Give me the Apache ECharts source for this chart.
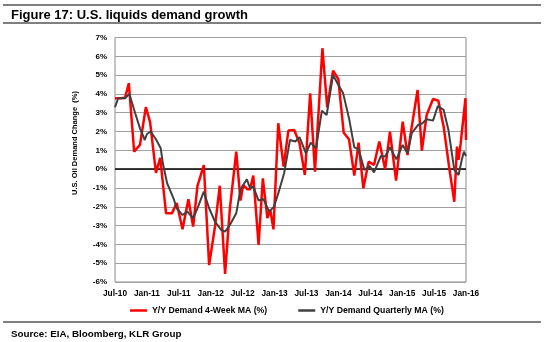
<!DOCTYPE html>
<html>
<head>
<meta charset="utf-8">
<script src="https://cdn.jsdelivr.net/npm/echarts@6/dist/echarts.min.js"></script>
<style>html,body{margin:0;padding:0;background:#fff;}#c{width:547px;height:342px;}</style>
</head>
<body>
<div id="c"></div>
<script>
// x-axis tick labels (every 6 months, starting Jul-10 = month 0)
var xTickLabels = ['Jul-10','Jan-11','Jul-11','Jan-12','Jul-12','Jan-13','Jul-13','Jan-14','Jul-14','Jan-15','Jul-15','Jan-16'];
// Y/Y Demand 4-Week MA (%) : months since Jul-10, values
var redMonth = [0,1,1.9,2.6,3.6,4.7,5.8,6.6,7.7,8.5,9.6,10.7,11.6,12.7,13.8,14.7,15.5,16.7,17.7,18.8,19.7,20.7,21.6,22.8,23.6,24.1,24.9,25.4,26,27,27.8,28.65,29.2,29.8,30.7,31.7,32.6,33.7,34.7,35.7,36.7,37.6,39.0,39.9,41.0,42.0,43.0,44.0,45.0,45.8,46.7,47.7,48.7,49.7,50.8,51.7,52.85,54.1,55.0,55.8,56.9,57.7,58.6,59.8,60.8,61.8,62.8,63.8,64.3,64.6,65.0,65.9,66];
var redValue = [3.77,3.77,3.8,4.57,0.93,1.3,3.3,2.5,-0.2,0.6,-2.35,-2.35,-1.8,-3.2,-1.6,-3.05,-0.9,0.22,-5.1,-3.05,-0.88,-5.57,-2.1,0.93,-1.67,-0.84,-1.07,-1.07,-0.34,-4.03,-0.49,-2.6,-2.17,-3.2,2.44,0.13,2.05,2.08,1.37,-0.31,4.03,-0.13,6.43,3.29,5.24,4.78,1.94,1.59,-0.34,1.41,-1.02,0.4,0.22,1.47,0,2.0,-0.61,2.53,0.75,2.26,4.21,0.98,2.88,3.73,3.64,2.26,0.17,-1.73,1.2,0.49,1.37,3.77,1.55];
// Y/Y Demand Quarterly MA (%)
var grayMonth = [0,0.6,1.9,2.7,3.8,4.7,5.6,6.0,6.7,7.7,8.6,9.0,9.8,11.0,11.6,12.7,13.6,14.7,15.5,16.7,17.7,18.8,20.0,20.7,21.6,22.8,23.6,24.8,25.4,26.0,27.0,27.9,29.0,29.9,30.9,31.8,32.9,33.9,34.7,35.9,36.8,37.8,38.9,39.8,41.0,41.9,42.9,44.0,45.0,45.8,46.9,47.9,48.7,50.0,50.8,51.7,52.9,54.1,55.0,55.8,57.0,57.8,58.6,59.8,60.7,61.8,62.7,63.8,64.6,65.2,65.6,66.0];
var grayValue = [3.29,3.77,3.77,4.0,2.97,2.17,1.55,1.87,2.0,1.59,1.11,0.31,-0.75,-1.55,-2.08,-2.44,-2.26,-2.61,-2.08,-1.2,-2.08,-2.79,-3.24,-3.32,-2.97,-2.35,-1.07,-0.54,-1.02,-0.93,-1.67,-1.59,-2.26,-1.99,-1.1,-0.22,1.55,1.47,1.7,0.84,1.41,1.11,3.11,2.88,5.01,4.53,4.03,2.71,1.16,1.06,-0.04,0.17,-0.17,0.7,0.67,1.16,0.52,1.29,0.84,1.91,2.35,2.44,2.65,2.58,3.36,3.15,2.08,-0.04,-0.31,0.49,0.93,0.70];
var seriesNames = ['Y/Y Demand 4-Week MA (%)','Y/Y Demand Quarterly MA (%)'];
var titleText = 'Figure 17: U.S. liquids demand growth';
var sourceText = 'Source: EIA, Bloomberg, KLR Group';
var yAxisTitle = 'U.S. Oil Demand Change  (%)';

function pairs(xs, ys){ return xs.map(function(x,i){ return [x, ys[i]]; }); }
var FONT = "'Liberation Sans', Arial, sans-serif";
var chart = echarts.init(document.getElementById('c'), null, {renderer:'canvas'});
chart.setOption({
  animation:false,
  backgroundColor:'#fff',
  grid:{left:115, right:81, top:37.5, bottom:60, show:true, borderColor:'#8c8c8c', borderWidth:1, containLabel:false},
  xAxis:{type:'value', min:0, max:66, interval:6,
    axisLine:{show:false}, axisTick:{show:false}, splitLine:{show:false},
    axisLabel:{margin:8, color:'#000', fontFamily:FONT, fontWeight:'bold', fontSize:8.3,
      formatter:function(v){ return xTickLabels[Math.round(v/6)] || ''; }}},
  yAxis:{type:'value', min:-6, max:7, interval:1,
    axisLine:{show:false}, axisTick:{show:false},
    splitLine:{show:true, lineStyle:{color:'#a0a0a0', width:1}},
    axisLabel:{margin:8, color:'#000', fontFamily:FONT, fontWeight:'bold', fontSize:8, formatter:'{value}%'}},
  legend:{left:130, top:306, padding:0, itemWidth:17, itemHeight:2.5, itemGap:31, icon:'rect',
    textStyle:{color:'#000', fontFamily:FONT, fontWeight:'bold', fontSize:8.7},
    data:seriesNames},
  series:[
    {name:seriesNames[0], type:'line', data:pairs(redMonth, redValue), symbol:'none',
      lineStyle:{color:'#ff0000', width:2.5}, itemStyle:{color:'#ff0000'}, z:3,
      markLine:{silent:true, symbol:'none', label:{show:false}, lineStyle:{color:'#000', width:1.5, type:'solid'}, data:[{yAxis:0}], z:1}},
    {name:seriesNames[1], type:'line', data:pairs(grayMonth, grayValue), symbol:'none',
      lineStyle:{color:'#404040', width:2}, itemStyle:{color:'#404040'}, z:4}
  ],
  graphic:[
    {type:'line', shape:{x1:3, y1:5, x2:541, y2:5}, style:{stroke:'#000', lineWidth:1.2}},
    {type:'line', shape:{x1:3, y1:23, x2:541, y2:23}, style:{stroke:'#000', lineWidth:1}},
    {type:'text', left:11, top:8.5, style:{text:titleText, fill:'#000', font:"bold 13px 'Liberation Sans', Arial, sans-serif"}},
    {type:'text', x:75, y:143, rotation:Math.PI/2, style:{text:yAxisTitle, fill:'#000', align:'center', verticalAlign:'middle', font:"bold 7.5px 'Liberation Sans', Arial, sans-serif"}},
    {type:'line', shape:{x1:3, y1:322, x2:541, y2:322}, style:{stroke:'#000', lineWidth:1}},
    {type:'text', left:11, top:329, style:{text:sourceText, fill:'#000', font:"bold 9.8px 'Liberation Sans', Arial, sans-serif"}}
  ]
});
</script>
</body>
</html>
